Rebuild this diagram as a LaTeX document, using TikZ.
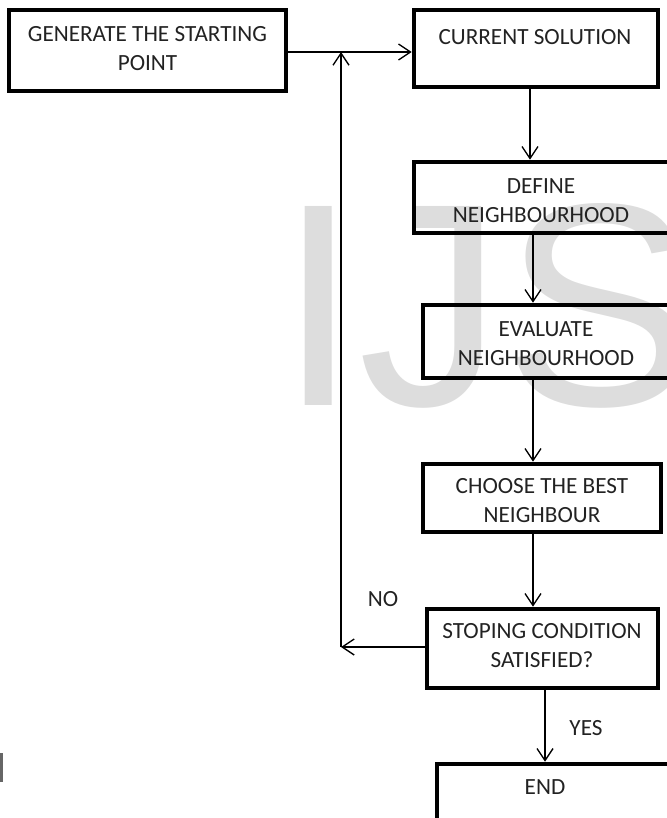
\documentclass[tikz,border=0pt]{standalone}
\usepackage{fontspec}
\setmainfont{Carlito}
\newfontfamily\wmfont{Liberation Sans}
\usetikzlibrary{arrows.meta,fit}
\definecolor{txt}{HTML}{222222}
\definecolor{wm}{HTML}{DDDDDD}
\begin{document}
\begin{tikzpicture}[x=0.75pt,y=-0.75pt,
  box/.style={draw=black, line width=3.4pt, inner sep=0pt},
  lbl/.style={text=txt, inner sep=0pt, align=center,
    font=\fontsize{17.4pt}{21.8pt}\selectfont},
  arr/.style={draw=black, line width=1pt, -{Straight Barb[length=9pt,width=12pt]}},
]
\useasboundingbox (0,0) rectangle (667,818);
\clip (0,0) rectangle (667,818);
% watermark
\node[anchor=base west, inner sep=0pt, text=wm,
  font=\wmfont\fontsize{217pt}{217pt}\selectfont] (wmark) at (278,405) {IJS};
\fill[black!60] (0,753) rectangle (3,782);
% boxes
\node[box, fit={(9,10) (286,91)}] (gen) {};
\node[box, fit={(414,10) (658,87)}] (cur) {};
\node[box, fit={(414,162) (675,233)}] (def) {};
\node[box, fit={(423,305) (675,378)}] (eva) {};
\node[box, fit={(423,464) (661,532)}] (cho) {};
\node[box, fit={(427,609) (658,688)}] (stop) {};
\node[box, fit={(437,764) (690,840)}] (endbox) {};
% box texts
\node[lbl] (gentxt) at (147.5,49) {GENERATE THE STARTING\\POINT};
\node[lbl] (curtxt) at (535,37) {CURRENT SOLUTION};
\node[lbl] (deftxt) at (541,201) {DEFINE\\NEIGHBOURHOOD};
\node[lbl] (evatxt) at (546,344) {EVALUATE\\NEIGHBOURHOOD};
\node[lbl] (chotxt) at (542,501) {CHOOSE THE BEST\\NEIGHBOUR};
\node[lbl] (stoptxt) at (542,646) {STOPING CONDITION\\SATISFIED?};
\node[lbl] (endtxt) at (545,787) {END};
% labels
\node[lbl] (no) at (383,599) {NO};
\node[lbl] (yes) at (586,728) {YES};
% helper coordinates
\coordinate (xa) at (530,0);
\coordinate (xb) at (533,0);
\coordinate (xc) at (545,0);
\coordinate (corner) at (341,647);
\coordinate (joint) at (341,52);
% connectors
\draw[arr] (gen.east |- joint) -- (cur.west |- joint);
\draw[arr] (stop.west |- corner) -- (corner);
\draw[arr] (corner) -- (joint);
\draw[arr] (cur.south -| xa) -- (def.north -| xa);
\draw[arr] (def.south -| xb) -- (eva.north -| xb);
\draw[arr] (eva.south -| xb) -- (cho.north -| xb);
\draw[arr] (cho.south -| xb) -- (stop.north -| xb);
\draw[arr] (stop.south -| xc) -- (endbox.north -| xc);
\end{tikzpicture}
\end{document}
